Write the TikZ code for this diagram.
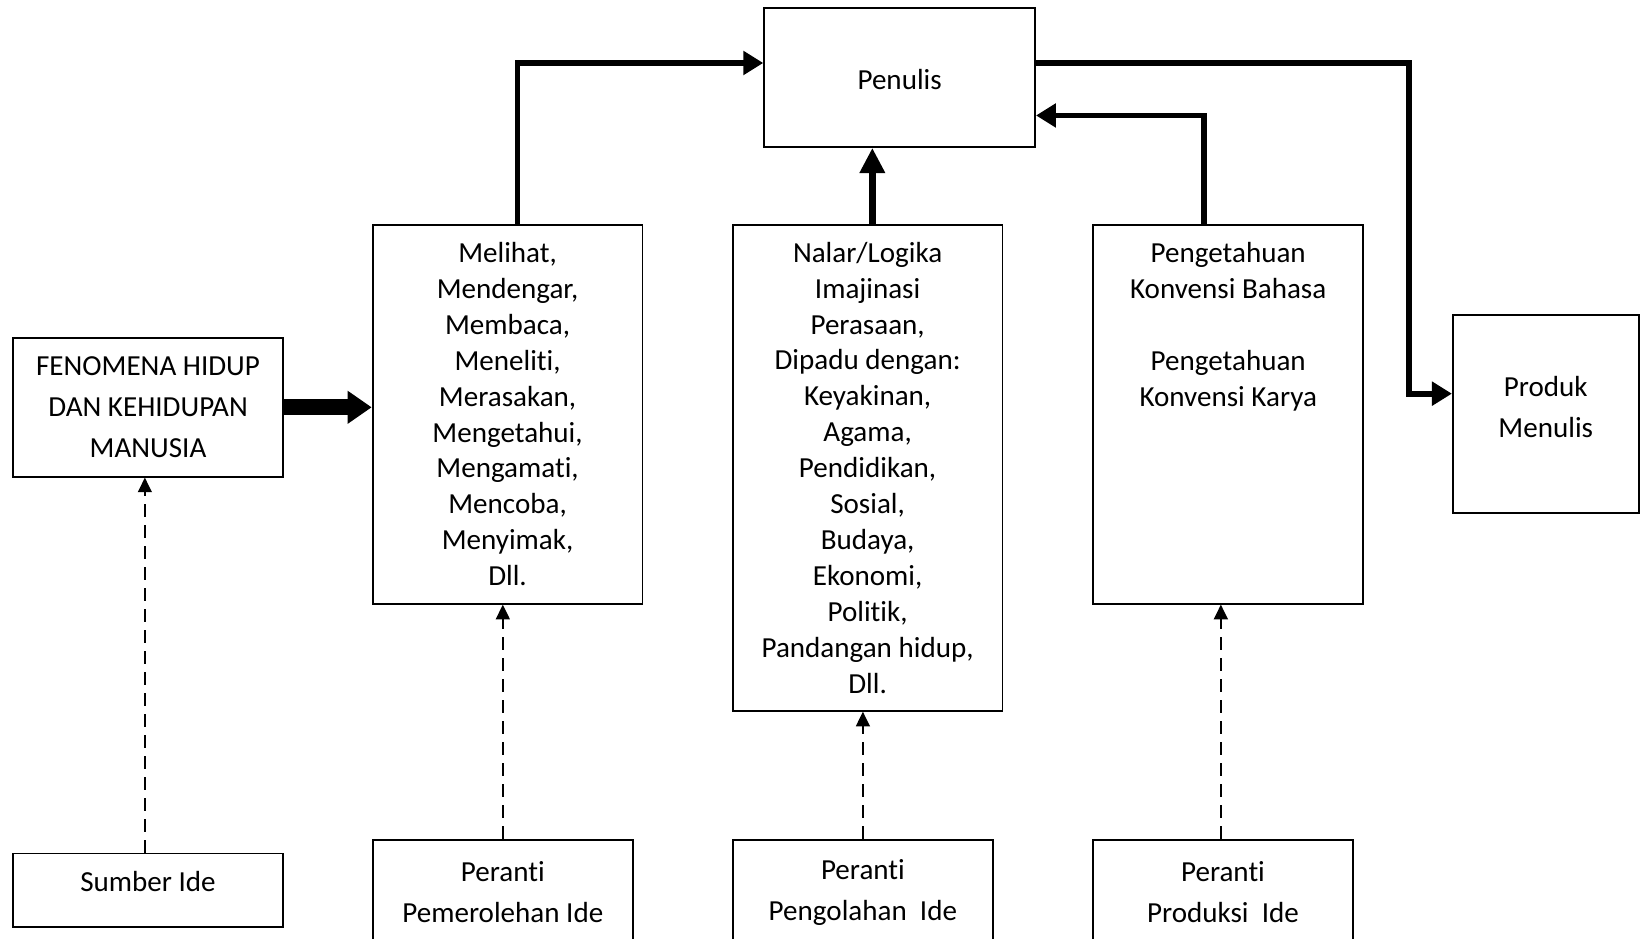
\documentclass[tikz,border=0pt]{standalone}
\usepackage{fontspec}
\setmainfont{Carlito}[Ligatures={NoCommon,NoContextual}]
\usetikzlibrary{arrows.meta,calc}
\begin{document}
\begin{tikzpicture}[x=0.5pt,y=-0.5pt,
  box/.style={draw,line width=0.9pt,inner sep=0pt,align=center,
    font=\fontsize{13.85pt}{17.1pt}\selectfont},
  wide/.style={font=\fontsize{13.85pt}{19.6pt}\selectfont},
  txt/.style={inner sep=0pt,align=center,font=\fontsize{13.85pt}{17.1pt}\selectfont},
  medarrow/.style={line width=2.8pt,-{Triangle[length=9.5pt,width=11pt]}},
  bigarrow/.style={line width=3.6pt,-{Triangle[length=12pt,width=11.5pt]}},
  fatarrow/.style={line width=7.5pt,-{Triangle[length=11.5pt,width=15pt]}},
  dasharrow/.style={line width=1.1pt,dash pattern=on 6pt off 4pt,-{Triangle[length=7pt,width=6.5pt]}}
]
\useasboundingbox (0,0) rectangle (1568,894);
\clip (0,0) rectangle (1568,894);

\node[box,wide,minimum width=129pt,minimum height=66pt] (fen) at (141,388)
  {FENOMENA HIDUP\\DAN KEHIDUPAN\\MANUSIA};
\node[box,minimum width=129pt,minimum height=35pt] (sum) at (141,848) {};
\node[txt] (sumtxt) at (141,840) {Sumber Ide};
\node[box,minimum width=128.5pt,minimum height=180.5pt] (mel) at (483.5,394.5)
  {Melihat,\\Mendengar,\\Membaca,\\Meneliti,\\Merasakan,\\Mengetahui,\\Mengamati,\\Mencoba,\\Menyimak,\\Dll.};
\node[box,minimum width=128.5pt,minimum height=231.5pt] (nal) at (826.5,445.5)
  {Nalar/Logika\\Imajinasi\\Perasaan,\\Dipadu dengan:\\Keyakinan,\\Agama,\\Pendidikan,\\Sosial,\\Budaya,\\Ekonomi,\\Politik,\\Pandangan hidup,\\Dll.};
\node[box,minimum width=128.5pt,minimum height=180.5pt] (pgt) at (1169.5,394.5) {};
\node[txt] (pgttxt) at (1170,311.5)
  {Pengetahuan\\Konvensi Bahasa\\[17.1pt]Pengetahuan\\Konvensi Karya};
\node[box,minimum width=129pt,minimum height=66pt] (pen) at (857,74) {};
\node[txt] (pentxt) at (857,76) {Penulis};
\node[box,minimum width=88.5pt,minimum height=94.5pt] (pro) at (1472.5,394.5) {};
\node[txt,wide] (protxt) at (1472.5,387.5) {Produk\\Menulis};
\node[box,wide,minimum width=124pt,minimum height=50pt] (p1) at (479,850) {Peranti\\Pemerolehan Ide};
\node[box,wide,minimum width=124pt,minimum height=50pt] (p2) at (822,850) {Peranti\\Pengolahan\ \ Ide};
\node[box,wide,minimum width=124pt,minimum height=50pt] (p3) at (1165,850) {Peranti\\Produksi\ \ Ide};

% solid connectors
\draw[fatarrow] (fen.east) -- (fen.east -| mel.west);
\draw[medarrow] ($(mel.north)+(9.5,0)$) |- ($(pen.west)+(0,-14)$);
\coordinate (nalout) at ($(nal.north)+(4.5,0)$);
\draw[bigarrow] (nalout) -- (nalout |- pen.south);
\draw[medarrow] ($(pgt.north)+(-22.5,0)$) |- ($(pen.east)+(0,36)$);
\draw[medarrow] ($(pen.east)+(0,-14)$) -| ($(pro.west)+(-41,-19.5)$) -- ($(pro.west)+(0,-19.5)$);

% dashed connectors
\coordinate (sumout) at ($(sum.north)+(-3,0)$);
\draw[dasharrow] (sumout) -- (sumout |- fen.south);
\draw[dasharrow] (p1.north) -- (p1.north |- mel.south);
\draw[dasharrow] (p2.north) -- (p2.north |- nal.south);
\coordinate (p3out) at ($(p3.north)+(-2,0)$);
\draw[dasharrow] (p3out) -- (p3out |- pgt.south);
\end{tikzpicture}
\end{document}
